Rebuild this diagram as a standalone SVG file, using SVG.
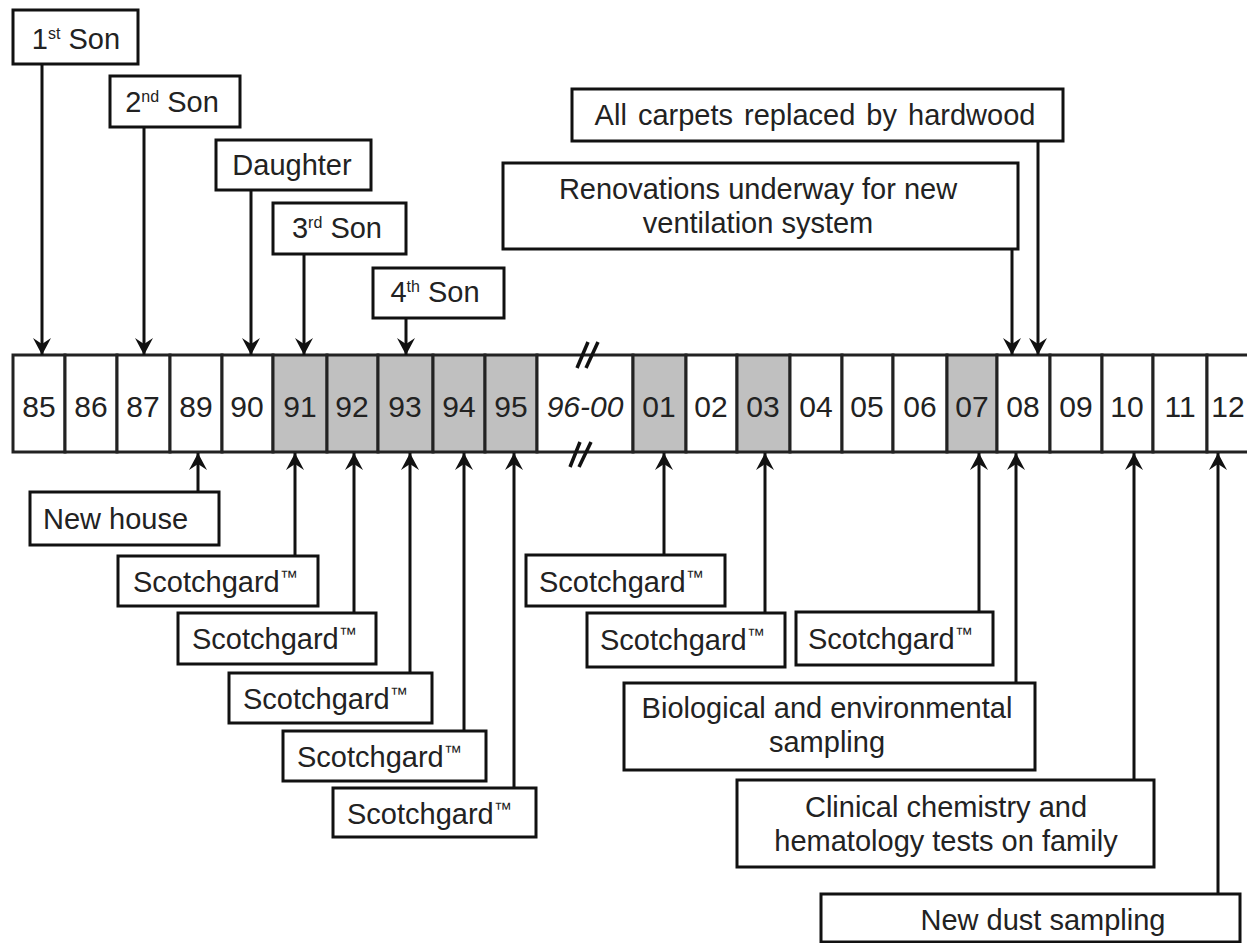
<svg xmlns="http://www.w3.org/2000/svg" width="1247" height="943" viewBox="0 0 1247 943">
<style>
.box{fill:#fff;stroke:#111;stroke-width:3}
.cell{fill:#fff;stroke:#222;stroke-width:3}
.sh{fill:#c0c0c0}
.t{font-family:"Liberation Sans",Arial,sans-serif;font-size:29px;fill:#222}
.d{font-family:"Liberation Sans",Arial,sans-serif;font-size:30px;fill:#222;text-anchor:middle}
.m{text-anchor:middle}
.c{stroke:#111;stroke-width:3;fill:none}
.brk{stroke:#111;stroke-width:3.5}
</style>
<defs>
<marker id="ah" markerUnits="userSpaceOnUse" viewBox="-18 -10 20 20" markerWidth="20" markerHeight="20" refX="0" refY="0" orient="auto">
<polygon points="0,0 -17,-9 -11,0 -17,9" fill="#111"/>
</marker>
</defs>
<g id="timeline">
<rect class="cell" x="13" y="355" width="52" height="97"/>
<rect class="cell" x="65" y="355" width="52" height="97"/>
<rect class="cell" x="117" y="355" width="53" height="97"/>
<rect class="cell" x="170" y="355" width="52" height="97"/>
<rect class="cell" x="222" y="355" width="51" height="97"/>
<rect class="cell sh" x="273" y="355" width="54" height="97"/>
<rect class="cell sh" x="327" y="355" width="51" height="97"/>
<rect class="cell sh" x="378" y="355" width="55" height="97"/>
<rect class="cell sh" x="433" y="355" width="52" height="97"/>
<rect class="cell sh" x="485" y="355" width="52" height="97"/>
<rect class="cell" x="537" y="355" width="96" height="97"/>
<rect class="cell sh" x="633" y="355" width="53" height="97"/>
<rect class="cell" x="686" y="355" width="51" height="97"/>
<rect class="cell sh" x="737" y="355" width="53" height="97"/>
<rect class="cell" x="790" y="355" width="52" height="97"/>
<rect class="cell" x="842" y="355" width="51" height="97"/>
<rect class="cell" x="893" y="355" width="54" height="97"/>
<rect class="cell sh" x="947" y="355" width="50" height="97"/>
<rect class="cell" x="997" y="355" width="53" height="97"/>
<rect class="cell" x="1050" y="355" width="52" height="97"/>
<rect class="cell" x="1102" y="355" width="51" height="97"/>
<rect class="cell" x="1153" y="355" width="54" height="97"/>
<rect class="cell" x="1207" y="355" width="52" height="97"/>
<text class="d" y="417"><tspan x="39">85</tspan><tspan x="91">86</tspan><tspan x="143">87</tspan><tspan x="196">89</tspan><tspan x="247">90</tspan><tspan x="300">91</tspan><tspan x="352">92</tspan><tspan x="405">93</tspan><tspan x="459">94</tspan><tspan x="511">95</tspan></text>
<text class="d" x="585" y="417" font-style="italic">96-00</text>
<text class="d" y="417"><tspan x="659">01</tspan><tspan x="711">02</tspan><tspan x="763">03</tspan><tspan x="816">04</tspan><tspan x="867">05</tspan><tspan x="920">06</tspan><tspan x="972">07</tspan><tspan x="1023">08</tspan><tspan x="1076">09</tspan><tspan x="1127">10</tspan><tspan x="1180">11</tspan><tspan x="1228">12</tspan></text>
<line class="brk" x1="577" y1="368" x2="588" y2="342"/>
<line class="brk" x1="586" y1="368" x2="598" y2="342"/>
<line class="brk" x1="570" y1="467" x2="580" y2="442"/>
<line class="brk" x1="579" y1="467" x2="591" y2="442"/>
</g>
<g id="connectors">
<line class="c" x1="42" y1="64" x2="42" y2="355" marker-end="url(#ah)"/>
<line class="c" x1="144" y1="127" x2="144" y2="355" marker-end="url(#ah)"/>
<line class="c" x1="251" y1="190" x2="251" y2="355" marker-end="url(#ah)"/>
<line class="c" x1="304" y1="254" x2="304" y2="355" marker-end="url(#ah)"/>
<line class="c" x1="406" y1="318" x2="406" y2="355" marker-end="url(#ah)"/>
<line class="c" x1="1012" y1="249" x2="1012" y2="355" marker-end="url(#ah)"/>
<line class="c" x1="1038" y1="141" x2="1038" y2="355" marker-end="url(#ah)"/>
<line class="c" x1="198" y1="492" x2="198" y2="453" marker-end="url(#ah)"/>
<line class="c" x1="295" y1="556" x2="295" y2="453" marker-end="url(#ah)"/>
<line class="c" x1="354" y1="613" x2="354" y2="453" marker-end="url(#ah)"/>
<line class="c" x1="410" y1="673" x2="410" y2="453" marker-end="url(#ah)"/>
<line class="c" x1="464" y1="731" x2="464" y2="453" marker-end="url(#ah)"/>
<line class="c" x1="514" y1="788" x2="514" y2="453" marker-end="url(#ah)"/>
<line class="c" x1="664" y1="555" x2="664" y2="453" marker-end="url(#ah)"/>
<line class="c" x1="765" y1="613" x2="765" y2="453" marker-end="url(#ah)"/>
<line class="c" x1="979" y1="612" x2="979" y2="453" marker-end="url(#ah)"/>
<line class="c" x1="1016" y1="683" x2="1016" y2="453" marker-end="url(#ah)"/>
<line class="c" x1="1134" y1="780" x2="1134" y2="453" marker-end="url(#ah)"/>
<line class="c" x1="1218" y1="894" x2="1218" y2="453" marker-end="url(#ah)"/>
</g>
<g id="son1"><rect class="box" x="13" y="10" width="125" height="54"/><text class="t m" x="76" y="49">1<tspan dy="-10" font-size="16">st</tspan><tspan dy="10"> Son</tspan></text></g>
<g id="son2"><rect class="box" x="110" y="76" width="130" height="51"/><text class="t m" x="172" y="112">2<tspan dy="-10" font-size="16">nd</tspan><tspan dy="10"> Son</tspan></text></g>
<g id="daughter"><rect class="box" x="216" y="140" width="155" height="50"/><text class="t m" x="292" y="175">Daughter</text></g>
<g id="son3"><rect class="box" x="273" y="203" width="133" height="51"/><text class="t m" x="337" y="238">3<tspan dy="-10" font-size="16">rd</tspan><tspan dy="10"> Son</tspan></text></g>
<g id="son4"><rect class="box" x="373" y="268" width="131" height="50"/><text class="t m" x="435" y="302">4<tspan dy="-10" font-size="16">th</tspan><tspan dy="10"> Son</tspan></text></g>
<g id="carpets"><rect class="box" x="572" y="89" width="491" height="52"/><text class="t m" x="815" y="125" word-spacing="3">All carpets replaced by hardwood</text></g>
<g id="renovations"><rect class="box" x="503" y="163" width="515" height="86"/><text class="t m" x="758" y="199">Renovations underway for new</text><text class="t m" x="758" y="233">ventilation system</text></g>
<g id="newhouse"><rect class="box" x="30" y="492" width="189" height="53"/><text class="t" x="43" y="529">New house</text></g>
<g id="sg91"><rect class="box" x="118" y="556" width="200" height="50"/><text class="t" x="133" y="592">Scotchgard<tspan dy="-9" font-size="18">™</tspan></text></g>
<g id="sg92"><rect class="box" x="178" y="613" width="198" height="51"/><text class="t" x="192" y="649">Scotchgard<tspan dy="-9" font-size="18">™</tspan></text></g>
<g id="sg93"><rect class="box" x="229" y="673" width="203" height="50"/><text class="t" x="243" y="709">Scotchgard<tspan dy="-9" font-size="18">™</tspan></text></g>
<g id="sg94"><rect class="box" x="283" y="731" width="203" height="50"/><text class="t" x="297" y="767">Scotchgard<tspan dy="-9" font-size="18">™</tspan></text></g>
<g id="sg95"><rect class="box" x="333" y="788" width="203" height="49"/><text class="t" x="347" y="824">Scotchgard<tspan dy="-9" font-size="18">™</tspan></text></g>
<g id="sg01"><rect class="box" x="526" y="555" width="199" height="51"/><text class="t" x="539" y="592">Scotchgard<tspan dy="-9" font-size="18">™</tspan></text></g>
<g id="sg03"><rect class="box" x="587" y="613" width="198" height="54"/><text class="t" x="600" y="650">Scotchgard<tspan dy="-9" font-size="18">™</tspan></text></g>
<g id="sg07"><rect class="box" x="796" y="612" width="197" height="53"/><text class="t" x="808" y="649">Scotchgard<tspan dy="-9" font-size="18">™</tspan></text></g>
<g id="bio"><rect class="box" x="624" y="683" width="411" height="87"/><text class="t m" x="827" y="718">Biological and environmental</text><text class="t m" x="827" y="752">sampling</text></g>
<g id="clinical"><rect class="box" x="737" y="780" width="417" height="87"/><text class="t m" x="946" y="817">Clinical chemistry and</text><text class="t m" x="946" y="851">hematology tests on family</text></g>
<g id="dust"><rect class="box" x="821" y="894" width="419" height="48"/><text class="t m" x="1043" y="930">New dust sampling</text></g>
</svg>
